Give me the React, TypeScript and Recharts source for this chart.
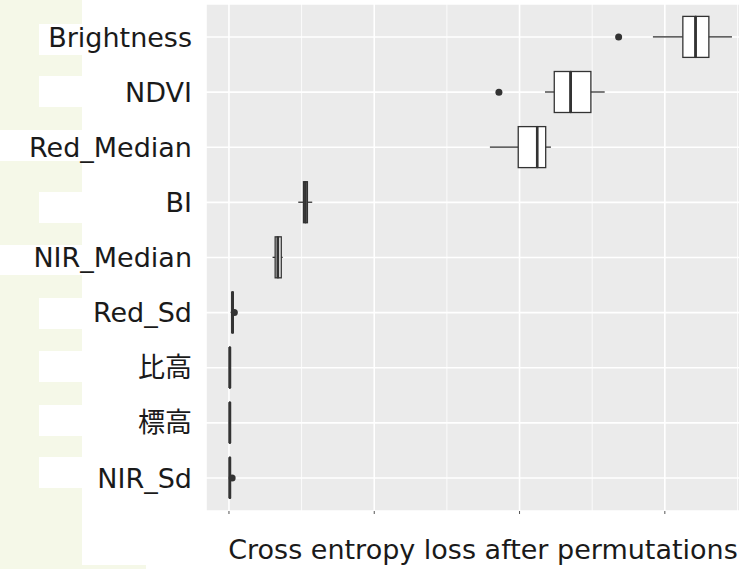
import React from 'react';
import { ComposedChart, Bar, Scatter, XAxis, YAxis, CartesianGrid } from 'recharts';

// permutation importance, one box per variable (top to bottom)
const variables = ['Brightness', 'NDVI', 'Red_Median', 'BI', 'NIR_Median', 'Red_Sd', '比高', '標高', 'NIR_Sd'];
const lowerWhisker = [2.918, 2.175, 1.796, 0.477, 0.3, 0.012, 0.004, 0.004, 0.003];
const firstQuartile = [3.124, 2.239, 1.991, 0.513, 0.318, 0.02, 0.005, 0.005, 0.005];
const medians = [3.212, 2.352, 2.122, 0.527, 0.337, 0.025, 0.006, 0.006, 0.006];
const thirdQuartile = [3.303, 2.491, 2.18, 0.54, 0.36, 0.029, 0.007, 0.007, 0.008];
const upperWhisker = [3.462, 2.586, 2.216, 0.573, 0.37, 0.032, 0.008, 0.008, 0.01];
const outliers = [2.682, 1.858, null, null, null, 0.037, null, null, 0.022];

const majorTicks = [0, 1, 2, 3];
const minorTicks = [0.5, 1.5, 2.5, 3.5];

const rows = variables.map((name, i) => ({
  name,
  base: lowerWhisker[i],
  lowWhisker: firstQuartile[i] - lowerWhisker[i],
  lowBox: medians[i] - firstQuartile[i],
  highBox: thirdQuartile[i] - medians[i],
  highWhisker: upperWhisker[i] - thirdQuartile[i],
  outlier: outliers[i],
}));

const INK = '#333333';
const FONT = '"DejaVu Sans", Verdana, "Noto Sans CJK JP", sans-serif';

const Whisker = (p: any) => {
  const cy = p.y + p.height / 2;
  return <line x1={p.x} x2={p.x + p.width} y1={cy} y2={cy} stroke={INK} strokeWidth={1.3} />;
};

const LowBox = (p: any) => (
  <g>
    <rect x={p.x} y={p.y} width={Math.max(p.width, 0.01)} height={p.height} fill="#fff" stroke={INK} strokeWidth={1.3} />
    <line x1={p.x + p.width} x2={p.x + p.width} y1={p.y} y2={p.y + p.height} stroke={INK} strokeWidth={2.6} />
  </g>
);

const HighBox = (p: any) => (
  <g>
    <rect x={p.x} y={p.y} width={Math.max(p.width, 0.01)} height={p.height} fill="#fff" stroke={INK} strokeWidth={1.3} />
    <line x1={p.x} x2={p.x} y1={p.y} y2={p.y + p.height} stroke={INK} strokeWidth={2.6} />
  </g>
);

const Dot = (p: any) => {
  if (p.cx == null || p.cy == null || isNaN(p.cx) || p.payload?.outlier == null) return <g />;
  return <circle cx={p.cx} cy={p.cy} r={3.5} fill={INK} />;
};

// tick labels are absent on the x axis, only the marks remain
const NoLabel = () => <text />;

const green = '#f5f8e8';

export default function App() {
  return (
    <div style={{ position: 'fixed', left: 0, top: 0, width: 739, height: 569, overflow: 'hidden', background: '#fff' }}>
      {/* stray highlight blocks behind the labels */}
      <div style={{ position: 'absolute', left: 0, top: 0, width: 82, height: 130, background: green }} />
      <div style={{ position: 'absolute', left: 0, top: 161, width: 82, height: 84, background: green }} />
      <div style={{ position: 'absolute', left: 0, top: 275, width: 82, height: 294, background: green }} />
      <div style={{ position: 'absolute', left: 0, top: 565, width: 146, height: 4, background: green }} />
      {[24, 76, 192, 298, 351, 405, 457].map((t) => (
        <div key={t} style={{ position: 'absolute', left: 39, top: t, width: 43, height: 31, background: '#fff' }} />
      ))}

      <div style={{ position: 'absolute', left: 0, top: 0 }}>
        <ComposedChart
          width={780}
          height={569}
          data={rows}
          layout="vertical"
          margin={{ top: 4, right: 20, bottom: 0, left: 0 }}
          barCategoryGap="12.5%"
        >
          <CartesianGrid fill="#ebebeb" stroke="#ffffff" strokeWidth={1.6} />
          <CartesianGrid horizontal={false} verticalValues={minorTicks} fill="none" stroke="#ffffff" strokeWidth={0.8} />
          <XAxis
            type="number"
            domain={[-0.158, 3.655]}
            ticks={majorTicks}
            allowDataOverflow
            tick={NoLabel}
            tickSize={3}
            tickLine={{ stroke: '#555555' }}
            axisLine={false}
            height={58}
            label={{ value: 'Cross entropy loss after permutations', position: 'insideBottom', offset: 10, fill: '#1a1a1a', fontSize: 27, fontFamily: FONT }}
          />
          <YAxis
            type="category"
            dataKey="name"
            width={206}
            padding={{ top: 5.5, bottom: 5.5 }}
            tickSize={0}
            tickMargin={14}
            tickLine={false}
            axisLine={false}
            interval={0}
            tick={{ fill: '#1a1a1a', fontSize: 27, fontFamily: FONT }}
          />
          <Bar dataKey="base" stackId="box" fill="transparent" isAnimationActive={false} />
          <Bar dataKey="lowWhisker" stackId="box" shape={Whisker} isAnimationActive={false} />
          <Bar dataKey="lowBox" stackId="box" shape={LowBox} isAnimationActive={false} />
          <Bar dataKey="highBox" stackId="box" shape={HighBox} isAnimationActive={false} />
          <Bar dataKey="highWhisker" stackId="box" shape={Whisker} isAnimationActive={false} />
          <Scatter dataKey="outlier" shape={Dot} isAnimationActive={false} />
        </ComposedChart>
      </div>
    </div>
  );
}
